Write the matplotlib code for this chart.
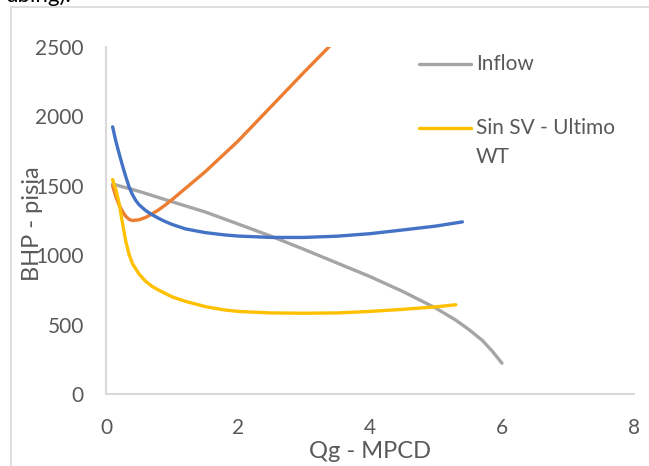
import matplotlib
matplotlib.use('Agg')
import matplotlib.pyplot as plt
from matplotlib.lines import Line2D
from matplotlib.patches import Rectangle

plt.rcParams['font.family'] = ['Lato', 'DejaVu Sans']

# Inflow curve (IPR)
qg_inflow = [0.1, 0.5, 1.0, 1.5, 2.0, 2.5, 3.0, 3.5, 4.0, 4.5, 5.0, 5.3, 5.5, 5.7, 5.85, 6.0]
bhp_inflow = [1513, 1460, 1385, 1312, 1225, 1137, 1042, 944, 846, 738, 618, 532, 464, 387, 310, 222]

# outflow curves
qg_blue = [0.1, 0.15, 0.2, 0.25, 0.3, 0.35, 0.4, 0.45, 0.5, 0.6, 0.7, 0.8, 0.9, 1.0, 1.2,
           1.5, 1.8, 2.0, 2.5, 3.0, 3.5, 4.0, 4.5, 5.0, 5.4]
bhp_blue = [1925, 1820, 1730, 1645, 1565, 1492, 1437, 1395, 1364, 1322, 1291, 1265, 1242, 1222, 1190,
            1163, 1146, 1138, 1128, 1128, 1137, 1155, 1182, 1210, 1240]

qg_orange = [0.1, 0.15, 0.2, 0.25, 0.3, 0.35, 0.4, 0.5, 0.6, 0.7, 0.8, 0.9, 1.0, 1.2, 1.5,
             2.0, 2.5, 3.0, 3.5]
bhp_orange = [1500, 1420, 1360, 1315, 1280, 1258, 1250, 1255, 1272, 1298, 1328, 1362, 1400, 1480, 1600,
              1822, 2070, 2318, 2560]

qg_yellow = [0.1, 0.15, 0.2, 0.25, 0.3, 0.35, 0.4, 0.5, 0.6, 0.7, 0.8, 1.0, 1.2, 1.5, 1.8,
             2.0, 2.5, 3.0, 3.5, 4.0, 4.5, 5.0, 5.3]
bhp_yellow = [1545, 1470, 1370, 1230, 1100, 1005, 940, 865, 812, 775, 748, 700, 668, 630, 605,
              595, 584, 582, 584, 595, 610, 628, 643]

x_ticks = [0, 2, 4, 6, 8]
y_ticks = [0, 500, 1000, 1500, 2000, 2500]

fig = plt.figure(figsize=(6.49, 4.66), dpi=100)
ax = fig.add_axes([106 / 649, 1 - 394 / 466, 528 / 649, 347 / 466])

ax.plot(qg_inflow, bhp_inflow, color='#A5A5A5', lw=2.4, solid_capstyle='round')
ax.plot(qg_orange, bhp_orange, color='#ED7D31', lw=2.4, solid_capstyle='round')
ax.plot(qg_blue, bhp_blue, color='#4472C4', lw=2.4, solid_capstyle='round')
ax.plot(qg_yellow, bhp_yellow, color='#FFC000', lw=2.4, solid_capstyle='round')

ax.set_xlim(0, 8)
ax.set_ylim(0, 2500)
ax.set_xticks(x_ticks)
ax.set_yticks(y_ticks)
ax.tick_params(length=0, labelsize=15, labelcolor='#595959')
ax.tick_params(axis='y', pad=16)
ax.tick_params(axis='x', pad=17)
for s in ['top', 'right']:
    ax.spines[s].set_visible(False)
for s in ['left', 'bottom']:
    ax.spines[s].set_color('#D9D9D9')
    ax.spines[s].set_linewidth(1.5)

ax.set_xlabel('Qg - MPCD', fontsize=17, color='#595959')
ax.set_ylabel('BHP - pisia', fontsize=17, color='#595959')
ax.xaxis.set_label_coords(0.5, -0.135)
ax.yaxis.set_label_coords(-0.119, 0.49)

# legend drawn by hand (only two entries visible)
def fig_xy(px, py):
    return px / 649, 1 - py / 466

for py, color in [(64, '#A5A5A5'), (128, '#FFC000')]:
    x0, y0 = fig_xy(419, py)
    x1, _ = fig_xy(471, py)
    fig.add_artist(Line2D([x0, x1], [y0, y0], color=color, lw=2.4, solid_capstyle='round'))
tx, ty = fig_xy(476, 64)
fig.text(tx, ty, 'Inflow', fontsize=15, color='#595959', va='center')
tx, ty = fig_xy(476, 128)
fig.text(tx, ty, 'Sin SV - Ultimo', fontsize=15, color='#595959', va='center')
tx, ty = fig_xy(476, 157)
fig.text(tx, ty, 'WT', fontsize=15, color='#595959', va='center')

# chart frame and cropped text above it
fig.add_artist(Rectangle((11 / 649, -0.1), 1.2, 1.1 - 7 / 466, transform=fig.transFigure,
                         fill=False, edgecolor='#D9D9D9', lw=1.2))
fig.text(0.008, 1 - 2 / 466, 'ubing).', fontsize=16, color='black', va='baseline')

fig.savefig('out.png', dpi=100)
